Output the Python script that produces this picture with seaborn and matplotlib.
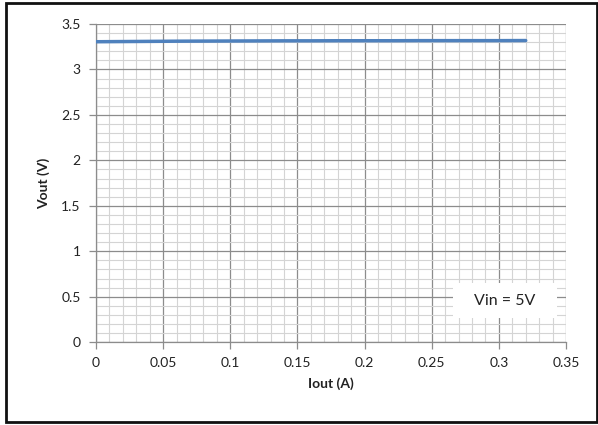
import numpy as np
import pandas as pd
import seaborn as sns
import matplotlib.pyplot as plt
from matplotlib.patches import Rectangle
from matplotlib.ticker import MultipleLocator

# Messwerte ablesen
iout = [0.0, 0.02, 0.04, 0.06, 0.08, 0.10, 0.12, 0.14, 0.16, 0.18,
        0.20, 0.22, 0.24, 0.26, 0.28, 0.30, 0.32]
vout = [3.305, 3.307, 3.309, 3.311, 3.312, 3.313, 3.314, 3.315, 3.315, 3.316,
        3.316, 3.316, 3.317, 3.317, 3.317, 3.317, 3.318]
df = pd.DataFrame({"Iout": iout, "Vout": vout})

sns.set_theme(style="white")
plt.rcParams['font.family'] = ['Lato', 'DejaVu Sans']

fig = plt.figure(figsize=(5.98, 4.25), dpi=100)
ax = fig.add_axes([0.1605, 0.195, 0.786, 0.7485])

sns.lineplot(data=df, x="Iout", y="Vout", ax=ax, color="#4f81bd", linewidth=2.5, zorder=3)

ax.set_xlim(0, 0.35)
ax.set_ylim(0, 3.5)
ax.xaxis.set_major_locator(MultipleLocator(0.05))
ax.xaxis.set_minor_locator(MultipleLocator(0.01))
ax.yaxis.set_major_locator(MultipleLocator(0.5))
ax.yaxis.set_minor_locator(MultipleLocator(0.1))
ax.set_xticks(np.arange(0, 0.351, 0.05))
ax.set_xticklabels(["0", "0.05", "0.1", "0.15", "0.2", "0.25", "0.3", "0.35"])
ax.set_yticks(np.arange(0, 3.51, 0.5))
ax.set_yticklabels(["0", "0.5", "1", "1.5", "2", "2.5", "3", "3.5"])

ax.grid(which="major", color="#8c8c8c", linewidth=0.9)
ax.grid(which="minor", color="#d4d4d4", linewidth=0.8)
ax.set_axisbelow(True)

for s in ["top", "right"]:
    ax.spines[s].set_visible(False)
for s in ["left", "bottom"]:
    ax.spines[s].set_color("#8c8c8c")
    ax.spines[s].set_linewidth(0.9)

ax.tick_params(which="major", direction="out", length=5, width=0.9, color="#8c8c8c",
               labelsize=10, labelcolor="#222222", pad=6, left=True, bottom=True)
ax.tick_params(which="minor", length=0)

ax.set_xlabel("Iout (A)", fontsize=10, fontweight="bold", color="#222222", labelpad=6)
ax.set_ylabel("Vout (V)", fontsize=10, fontweight="bold", color="#222222", labelpad=8)

# Textfeld "Vin = 5V"
ax.add_patch(Rectangle((0.2658, 0.264), 0.0774, 0.385, facecolor="white",
                       edgecolor="none", zorder=4))
ax.text(0.3045, 0.457, "Vin = 5V", fontsize=11.5, color="#222222", ha="center", va="center",
        zorder=5)

# Rahmen um das ganze Bild
fig.patches.append(Rectangle((6 / 598, 3 / 425), 591 / 598, 419 / 425, transform=fig.transFigure,
                             fill=False, edgecolor="#111111", linewidth=2))

fig.savefig("out.png", dpi=100)
